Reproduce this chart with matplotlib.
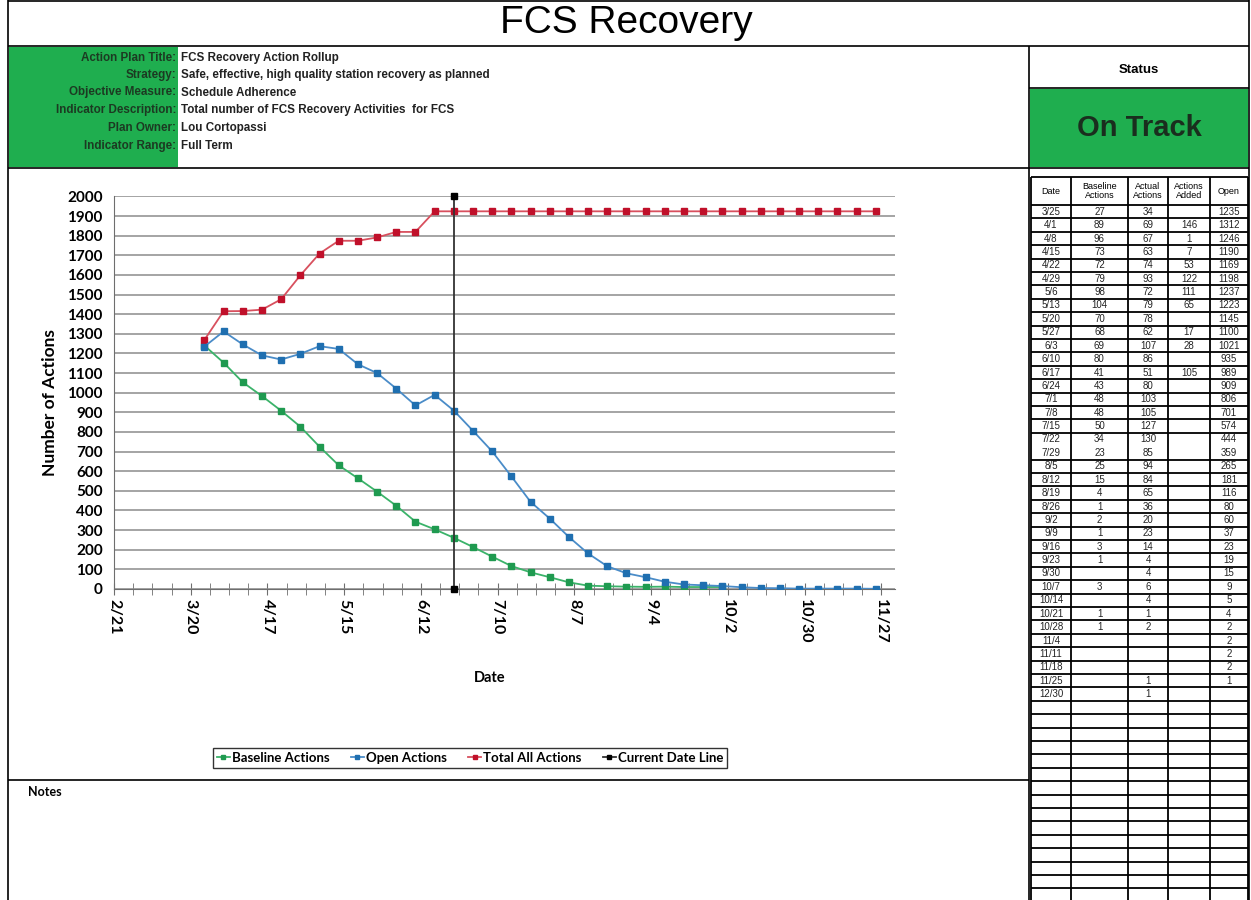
import datetime as dt
import matplotlib
matplotlib.use("Agg")
import matplotlib.pyplot as plt
from matplotlib.patches import Rectangle
from matplotlib.lines import Line2D

# ---- данные ----
year = 2012
week_dates = ["3/25", "4/1", "4/8", "4/15", "4/22", "4/29", "5/6", "5/13", "5/20", "5/27",
              "6/3", "6/10", "6/17", "6/24", "7/1", "7/8", "7/15", "7/22", "7/29", "8/5",
              "8/12", "8/19", "8/26", "9/2", "9/9", "9/16", "9/23", "9/30", "10/7", "10/14",
              "10/21", "10/28", "11/4", "11/11", "11/18", "11/25"]
baseline_vals = [1240, 1153, 1053, 983, 908, 827, 725, 630, 564, 496,
                 424, 343, 304, 261, 214, 165, 117, 85, 60, 34,
                 17, 14, 12, 11, 12, 10, 10, 10]
open_vals = [1235, 1312, 1246, 1190, 1169, 1198, 1237, 1223, 1145, 1100,
             1021, 935, 989, 909, 806, 701, 574, 444, 359, 265,
             181, 116, 80, 60, 37, 23, 19, 15, 9, 5,
             4, 2, 2, 2, 2, 1]
total_vals = [1269, 1415, 1416, 1423, 1476, 1598, 1709, 1774, 1774, 1791,
              1819, 1819, 1924] + [1924] * 23
current_date = "6/24"
current_line = [0, 2000]

x_start = "2/21"
x_ticks = ["2/21", "3/20", "4/17", "5/15", "6/12", "7/10", "8/7", "9/4", "10/2", "10/30", "11/27"]

# таблица справа
tbl_dates = week_dates + ["12/30"]
tbl_baseline = [27, 89, 96, 73, 72, 79, 98, 104, 70, 68, 69, 80, 41, 43, 48, 48, 50, 34, 23, 25,
                15, 4, 1, 2, 1, 3, 1, "", 3, "", 1, 1, "", "", "", "", ""]
tbl_actual = [34, 69, 67, 63, 74, 93, 72, 79, 78, 62, 107, 86, 51, 80, 103, 105, 127, 130, 85, 94,
              84, 65, 36, 20, 23, 14, 4, 4, 6, 4, 1, 2, "", "", "", 1, 1]
tbl_added = ["", 146, 1, 7, 53, 122, 111, 65, "", 17, 28, "", 105] + [""] * 24
tbl_open = open_vals + [""]

header_labels = ["Action Plan Title:", "Strategy:", "Objective Measure:",
                 "Indicator Description:", "Plan Owner:", "Indicator Range:"]
header_values = ["FCS Recovery Action Rollup",
                 "Safe, effective, high quality station recovery as planned",
                 "Schedule Adherence",
                 "Total number of FCS Recovery Activities  for FCS",
                 "Lou Cortopassi",
                 "Full Term"]


def to_date(s):
    m, d = s.split("/")
    return dt.date(year, int(m), int(d))


W, H = 1251, 900
GREEN = "#1fae4f"
fig = plt.figure(figsize=(W / 100, H / 100), dpi=100)

# фон в пикселях
bg = fig.add_axes([0, 0, 1, 1])
bg.set_xlim(0, W)
bg.set_ylim(H, 0)
bg.axis("off")

def hline(y, x0, x1, lw=1.2, c="black"):
    bg.plot([x0, x1], [y, y], color=c, lw=lw, solid_capstyle="butt")

def vline(x, y0, y1, lw=1.2, c="black"):
    bg.plot([x, x], [y0, y1], color=c, lw=lw, solid_capstyle="butt")

# рамка
vline(8, 0, H)
vline(1249, 0, H)
hline(1, 8, 1249)
hline(46, 8, 1249)
hline(168, 8, 1249)
hline(780, 8, 1029)
vline(1029, 46, H)

bg.text(626, 23, "FCS Recovery", ha="center", va="center", fontsize=28, family="Liberation Sans")

# зеленая шапка
bg.add_patch(Rectangle((9, 47), 169, 120, color=GREEN, lw=0))
row_y = [58, 75, 92.5, 110, 128, 146]
for yy, lab, val in zip(row_y, header_labels, header_values):
    bg.text(176, yy, lab, ha="right", va="center", fontsize=8.4, fontweight="bold",
            color="#1c3a22", family="Liberation Sans")
    bg.text(181, yy, val, ha="left", va="center", fontsize=8.4, fontweight="bold",
            color="#222222", family="Liberation Sans")

# статус
bg.text(1139, 70, "Status", ha="center", va="center", fontsize=9.5, fontweight="bold",
        family="Liberation Sans")
hline(88, 1029, 1249)
bg.add_patch(Rectangle((1030, 89), 218, 78, color=GREEN, lw=0))
bg.text(1139, 128, "On Track", ha="center", va="center", fontsize=21, fontweight="bold",
        color="#1a2e1e", family="Liberation Sans")

bg.text(28, 792, "Notes", ha="left", va="center", fontsize=9, fontweight="bold", family="Lato")

# таблица
col_x = [1031, 1071, 1128, 1168, 1210, 1248]
t_top, t_head = 177, 205
rh = 13.4
n_rows = int((H - t_head) / rh) + 1
hline(t_top, col_x[0], col_x[-1], lw=1.3)
hline(t_head, col_x[0], col_x[-1], lw=1.3)
for cx in col_x:
    vline(cx, t_top, H, lw=1.3)
heads = ["Date", "Baseline\nActions", "Actual\nActions", "Actions\nAdded", "Open"]
for i, hd in enumerate(heads):
    cx = (col_x[i] + col_x[i + 1]) / 2
    bg.text(cx, (t_top + t_head) / 2, hd, ha="center", va="center", fontsize=6.5,
            family="Liberation Sans", linespacing=1.0)
skip_line = tbl_dates.index("7/29")
for r in range(n_rows):
    y1 = t_head + (r + 1) * rh
    if r + 1 == skip_line:
        continue
    hline(y1, col_x[0], col_x[-1], lw=1.3)
cols = [tbl_dates, tbl_baseline, tbl_actual, tbl_added, tbl_open]
for r in range(len(tbl_dates)):
    yc = t_head + (r + 0.5) * rh
    for i, col in enumerate(cols):
        cx = (col_x[i] + col_x[i + 1]) / 2
        bg.text(cx, yc, str(col[r]), ha="center", va="center", fontsize=7,
                family="Liberation Sans", color="#222222")

# ---- график ----
px_left, px_right, px_top, px_bot = 114, 895, 196.4, 589
ax = fig.add_axes([px_left / W, 1 - px_bot / H, (px_right - px_left) / W, (px_bot - px_top) / H])
ax.patch.set_alpha(0)

d_week = [to_date(s) for s in week_dates]
ax.plot(d_week[:len(baseline_vals)], baseline_vals, color="#3bb36a", lw=1.3, marker="s", ms=4,
        mfc="#1f9a50", mec="#1f9a50", label="Baseline Actions", zorder=3)
ax.plot(d_week, open_vals, color="#4a8cc8", lw=1.3, marker="s", ms=4,
        mfc="#1f6fb0", mec="#1f6fb0", label="Open Actions", zorder=4)
ax.plot(d_week, total_vals, color="#d8505e", lw=1.3, marker="s", ms=4,
        mfc="#c0102a", mec="#c0102a", label="Total All Actions", zorder=3)
cd = to_date(current_date)
ax.plot([cd, cd], current_line, color="#333333", lw=1.3, marker="s", ms=5,
        mfc="black", mec="black", label="Current Date Line", clip_on=False, zorder=5)

x0 = to_date(x_start)
ax.set_xlim(x0, x0 + dt.timedelta(days=285.5))
ax.set_ylim(0, 2000)
ax.set_yticks(range(0, 2001, 100))
ax.yaxis.grid(True, color="#8c8c8c", lw=1.1)
ax.set_axisbelow(True)
for s in ["top", "right"]:
    ax.spines[s].set_visible(False)
ax.spines["left"].set_color("#6e6e6e")
ax.spines["bottom"].set_color("#6e6e6e")
ax.tick_params(axis="y", length=0, pad=8, labelsize=11)
for lab in ax.get_yticklabels():
    lab.set_fontweight("bold")
    lab.set_family("Lato")

major = [to_date(s) for s in x_ticks]
minor = [x0 + dt.timedelta(days=7 * k) for k in range(41)]
ax.set_xticks(major)
ax.set_xticks(minor, minor=True)
ax.set_xticklabels(x_ticks, rotation=-90, fontsize=11.5, fontweight="bold", family="Lato")
ax.tick_params(axis="x", which="both", direction="inout", length=8, color="#6e6e6e", pad=3)

ax.set_ylabel("Number of Actions", fontsize=12.5, fontweight="bold", family="Lato")
ax.yaxis.set_label_coords(-0.072, 0.475)
fig.text(490 / W, 1 - 678 / H, "Date", ha="center", va="center", fontsize=10.5,
         fontweight="bold", family="Lato")

handles = [Line2D([], [], color=c, lw=1.3, marker="s", ms=3.5, mfc=m, mec=m)
           for c, m in [("#3bb36a", "#1f9a50"), ("#4a8cc8", "#1f6fb0"),
                        ("#d8505e", "#c0102a"), ("#333333", "black")]]
leg = fig.legend(handles, ["Baseline Actions", "Open Actions", "Total All Actions", "Current Date Line"],
                 loc="center", bbox_to_anchor=(470 / W, 1 - 758 / H), ncol=4, fancybox=False,
                 edgecolor="black", handlelength=1.0, handletextpad=0.15, columnspacing=1.6,
                 borderpad=0.3, prop={"family": "Lato", "weight": "bold", "size": 9.5})
leg.get_frame().set_linewidth(1.0)

fig.savefig("out.png", dpi=100)
